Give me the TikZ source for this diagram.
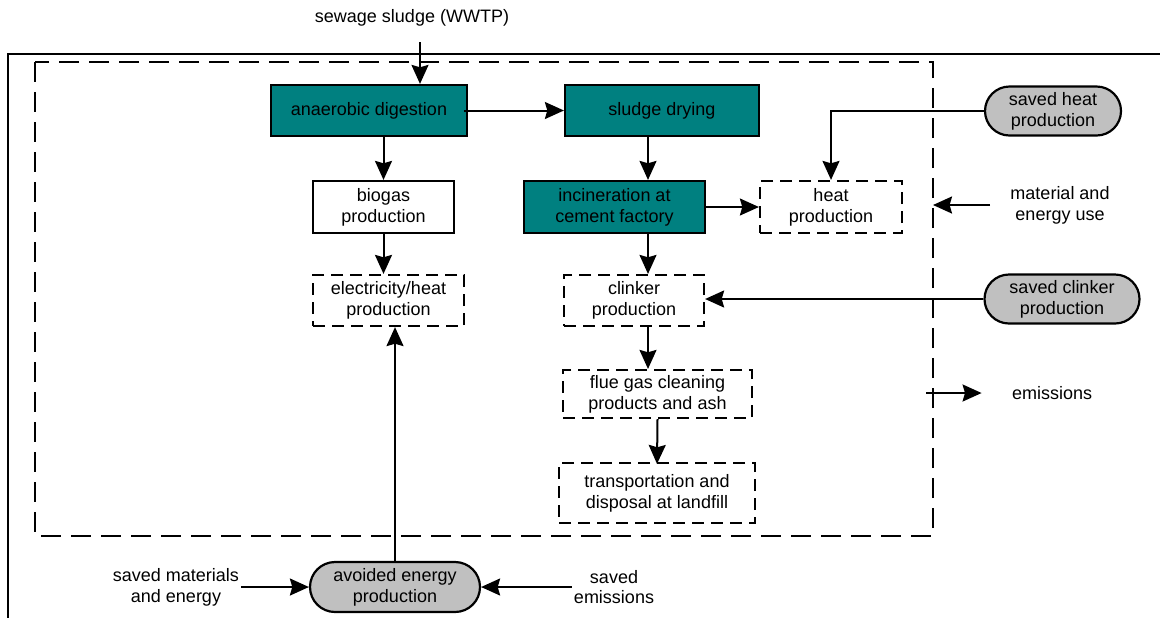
\documentclass[tikz,border=0pt]{standalone}
\usepackage{fontspec}
\setmainfont{Liberation Sans}
\usetikzlibrary{arrows.meta,shapes.misc}
\definecolor{digestteal}{RGB}{0,128,128}
\definecolor{savedgray}{RGB}{192,192,192}

\begin{document}
\begin{tikzpicture}[x=0.5pt,y=-0.5pt,line join=miter,>={Stealth[length=9.5pt,width=8.5pt,inset=1.2pt]},
  every node/.style={inner sep=1pt,font=\fontsize{9}{10.4}\selectfont,align=center},
  conn/.style={->,line width=1pt},
  procbox/.style={draw,line width=1.1pt,fill=digestteal,minimum height=25.5pt},
  plainbox/.style={draw,line width=1.1pt,fill=white,minimum height=26pt},
  dashbox/.style={draw,line width=1.1pt,dash pattern=on 6pt off 3.5pt,minimum height=25.5pt},
  pill/.style={draw,line width=1.1pt,fill=savedgray,rounded rectangle,minimum height=24.5pt}]
  \useasboundingbox (0,0) rectangle (1160,618);
  \coordinate (sysNW) at (35,62);
  \coordinate (sysSE) at (933,536);
  \coordinate (feed) at (420,42);
  \coordinate (mainx) at (648,0);
  \draw[line width=1.3pt] (1160,54) -- (8,54) -- (8,618);
  \draw[line width=1.1pt,dash pattern=on 10pt off 5pt] (sysNW) rectangle (sysSE);

  \node (sludge) at (412,18) {sewage sludge (WWTP)};
  \node[procbox,minimum width=98pt] (anaer) at (369,110.5) {anaerobic digestion};
  \node[procbox,minimum width=97pt] (drying) at (662,110.5) {sludge drying};
  \node[plainbox,minimum width=70.5pt] (biogas) at (383.5,207) {biogas\\production};
  \node[procbox,minimum width=90.5pt,minimum height=26pt] (incin) at (614.5,207) {incineration at\\cement factory};
  \node[dashbox,minimum width=71pt,minimum height=26pt] (heat) at (831,207) {heat\\production};
  \node[dashbox,minimum width=75.5pt] (elec) at (388.5,300.5) {electricity/heat\\production};
  \node[dashbox,minimum width=70pt] (clinker) at (634,300.5) {clinker\\production};
  \node[dashbox,minimum width=94.5pt,minimum height=24pt] (flue) at (657.5,394) {flue gas cleaning\\products and ash};
  \node[dashbox,minimum width=98pt,minimum height=30pt] (landfill) at (657,493) {transportation and\\disposal at landfill};
  \node[pill,minimum width=70pt] (sheat) at (1053,111) {saved heat\\production};
  \node[pill,minimum width=79.5pt] (sclinker) at (1062,299) {saved clinker\\production};
  \node (mat) at (1060,205) {material and\\energy use};
  \node (emis) at (1052,393) {emissions};
  \node[pill,minimum width=87pt,minimum height=25pt] (avoided) at (395,587) {avoided energy\\production};
  \node (smat) at (176,587) {saved materials\\and energy};
  \node (semis) at (614,587) {saved\\emissions};

  \draw[conn] (feed) -- (feed |- anaer.north);
  \draw[conn] ([xshift=-2pt]anaer.east) -- (drying.west);
  \draw[conn] (biogas.north |- anaer.south) -- (biogas.north);
  \draw[conn] (biogas.south) -- (biogas.south |- elec.north);
  \draw[conn] (drying.south -| mainx) -- (incin.north -| mainx);
  \draw[conn] (incin.east) -- (heat.west);
  \draw[conn] (incin.south -| mainx) -- (clinker.north -| mainx);
  \draw[conn] (clinker.south -| mainx) -- (flue.north -| mainx);
  \draw[conn] (flue.south) -- ([yshift=-1pt]landfill.north);
  \draw[conn] (sheat.west) -| (heat.north);
  \draw[conn] (sclinker.west) -- (sclinker.west -| clinker.east);
  \draw[conn] ([xshift=-9pt]mat.west) -- (mat.west -| sysSE);
  \path (sysSE |- emis.west) coordinate (emisfoot);
  \draw[conn] ([xshift=-3.5pt]emisfoot) -- ([xshift=-14pt]emis.west);
  \draw[conn] (avoided.north) -- (avoided.north |- elec.south);
  \draw[conn] (smat.east) -- (avoided.west);
  \draw[conn] (semis.west) -- (avoided.east);
\end{tikzpicture}
\end{document}
